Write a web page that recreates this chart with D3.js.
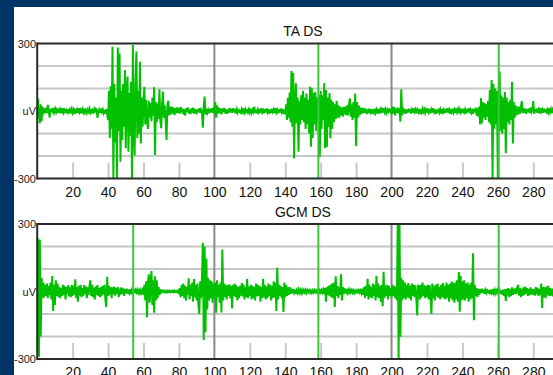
<!DOCTYPE html>
<html>
<head>
<meta charset="utf-8">
<script src="https://cdn.jsdelivr.net/npm/d3@7"></script>
<style>
  html, body { margin: 0; padding: 0; background: #003366; overflow: hidden; }
  svg { display: block; font-family: "Liberation Sans", Arial, sans-serif; }
</style>
</head>
<body>
<svg id="chart" width="553" height="375"></svg>
<script>
// Sampling interval of the traces along the x axis
const sampleStep = 0.5;

// Axis labels
const xTicks = [20, 40, 60, 80, 100, 120, 140, 160, 180, 200, 220, 240, 260, 280];
const yMax = 300;
const yLabels = ["300", "uV", "-300"];

// TA DS trace (uV), one value per half unit
const taValues = [
  10,55,-20,-54,30,-45,20,-15,12,-8,15,-10,27,5,-29,10,-6,12,-5,8,
  -6,9,-4,11,-8,5,-10,7,-3,12,-7,4,-9,10,-5,8,-11,6,-4,9,
  -8,5,-12,10,-3,7,-9,12,-6,4,-10,8,-5,11,-7,3,-9,6,-4,10,
  -6,8,-11,5,-4,9,-7,12,-30,-5,6,-8,10,-4,7,-9,5,-12,8,-15,
  -40,90,-120,110,-80,286,-300,120,-140,60,-300,282,-90,256,-225,90,-130,120,-70,182,
  -166,100,153,-181,80,-110,130,-300,293,-90,-198,140,264,-120,90,-100,219,-144,60,-70,
  40,108,-60,50,-40,-80,45,-30,35,-45,60,-20,106,-196,40,-50,30,-35,96,-40,
  -76,30,86,-30,25,-40,-129,30,45,-20,18,-15,20,-12,15,-18,12,-10,16,-8,
  14,-12,18,-6,10,-15,8,-20,12,-5,16,-10,6,-14,11,-8,15,-12,9,-6,
  -10,8,-6,12,-9,5,-8,-74,20,64,-15,10,-8,5,-10,9,-6,12,-8,6,
  -10,40,-30,25,-12,15,-8,12,-15,10,-6,14,-10,8,-12,6,-9,13,-5,10,
  -8,12,-5,9,-11,7,-6,10,-9,5,-12,8,-4,11,-7,6,-10,9,-5,8,
  -6,10,-8,5,-4,19,-9,7,-11,6,-5,9,-8,12,-6,4,-10,8,-7,11,
  -5,9,-12,6,-8,10,-4,7,-9,12,-6,5,-10,8,-7,11,-5,9,-12,6,
  -15,30,-40,59,-30,82,-50,178,-70,170,-210,40,123,-55,60,-181,43,-60,70,-40,
  90,-50,60,-80,78,-60,50,-100,108,-159,101,-120,80,-60,85,-90,60,-50,70,-203,
  90,-80,70,-40,123,-166,93,-160,60,-70,80,-121,50,-80,40,-50,30,-35,45,-30,
  25,-30,20,-20,15,-25,18,-15,20,-18,25,-20,30,56,-25,30,-40,40,-30,78,
  -155,40,-30,25,-20,15,-12,14,-10,12,-8,10,-14,6,-9,11,-5,8,-12,7,
  -6,10,-8,5,-11,9,-4,7,-10,6,-7,12,-5,8,-9,4,-10,11,-6,8,
  -15,20,-12,18,-20,10,-8,15,-10,12,-47,96,-20,15,-10,8,-12,6,-8,10,
  -6,9,-11,5,-8,12,-4,7,-10,6,-5,9,-12,8,-6,10,-4,7,-9,5,
  -8,11,-5,9,-10,6,-7,12,-4,8,-14,5,-9,10,-6,7,-11,9,-5,6,
  -10,8,-6,12,-8,5,-12,9,-4,10,-7,6,-9,11,-5,8,-10,7,-6,9,
  -8,10,-5,7,-11,9,-6,12,-9,5,-7,10,-12,8,-5,15,-20,12,-25,20,
  -60,58,-55,40,-30,35,-40,30,-25,45,-50,93,-60,138,-300,120,-80,100,-60,90,
  -300,80,175,-90,70,-100,60,-80,84,-188,60,-50,40,-60,50,-40,130,-144,40,-30,
  25,-20,18,-15,20,-12,15,44,-10,12,-8,10,-12,8,-6,11,-9,6,-5,10,
  44,-12,8,-6,11,-9,5,-10,12,-4,7,-8,10,-6,9,-11,5,-7,12,-5,
  8,-9,6,-5,10,-8,7,-6,9,-4,6,-8,10,-5,7,-9,6,-4,8,-6
];

// GCM DS trace (uV), one value per half unit
const gcmValues = [
  0,236,-290,230,-200,60,-30,40,-25,30,-20,35,-30,25,-15,40,-35,69,-87,30,
  -60,50,-20,35,-25,20,-30,15,-20,30,-15,25,-35,20,-10,28,-22,18,-25,30,
  -20,25,-15,54,-30,20,-45,25,-18,30,-25,15,-20,28,-12,22,-30,18,-15,25,
  50,-20,30,-25,18,-35,22,-15,28,-20,15,-25,20,-18,25,-12,30,-40,-69,65,
  -20,25,-15,20,-30,18,-12,22,-18,15,-10,20,-25,12,-15,18,-10,14,-20,12,
  -8,12,-10,8,-6,10,-12,7,-5,9,-8,6,-4,8,-6,5,-8,7,-5,6,
  -15,30,-40,45,-114,40,76,-50,45,91,-60,50,-94,68,-40,50,-30,20,-15,10,
  -3,3,-2,4,-3,2,-4,3,-2,3,-3,2,-2,4,-3,3,-2,2,-4,3,
  -5,15,-25,30,-20,35,-30,25,-40,20,-15,59,-35,30,-20,40,-45,55,-25,30,
  -40,35,-60,-99,45,-30,60,217,-216,200,-180,147,-80,60,-40,50,-30,45,-50,35,
  -30,40,-94,50,-25,30,-50,40,-93,187,-40,35,-25,30,-35,28,-20,32,-30,25,
  -75,30,-20,35,-25,28,-40,20,-30,25,-18,38,-22,30,-35,20,-25,55,-30,22,
  -20,30,-35,25,-28,20,-40,35,-22,30,-18,25,-45,20,-30,56,-25,30,-35,22,
  -28,35,-20,30,-40,25,-30,45,-25,38,-87,106,-35,30,-20,25,-30,20,-91,40,
  -25,30,-20,18,-15,20,-10,12,-8,10,-6,8,-10,5,-7,9,-5,6,-8,7,
  -5,6,-4,7,-6,5,-3,6,-5,4,-6,5,-4,6,-3,5,-5,4,-6,5,
  -4,6,-5,8,-10,15,-45,20,-15,25,-20,30,-25,35,-30,40,-69,68,-20,25,
  -30,20,-15,77,-40,20,-12,15,-8,10,-6,8,-5,7,-4,6,-5,5,-6,4,
  -4,5,-3,6,-5,4,-8,12,-15,20,-30,25,-20,56,-35,30,-25,20,-30,35,
  -20,30,-40,70,-25,35,-30,25,-45,30,-65,88,-30,25,-20,30,-35,25,-20,15,
  -25,30,-20,25,-30,20,-40,300,-300,300,-201,60,-40,50,-30,40,-35,30,-25,38,
  -30,25,-40,35,-20,30,-25,28,-35,-106,30,20,-35,30,-25,40,-20,28,-30,25,
  -25,30,-35,28,-20,-100,35,-30,25,-40,30,-22,35,-28,20,-35,30,-25,38,-30,
  25,-35,40,-28,30,-45,35,-30,45,-40,38,-50,40,-35,50,-45,87,-90,70,-40,
  45,-35,50,-40,35,-30,40,-45,30,-35,40,-30,170,-128,30,-20,15,-25,12,-15,
  10,-8,12,-6,9,-10,7,-5,11,-8,6,-12,8,-5,10,-7,6,-9,5,-6,
  8,-5,6,-10,5,-15,8,-20,10,-42,12,-18,15,-25,10,-20,18,-15,12,-10,
  15,-12,20,30,-18,15,-25,12,-20,18,-15,22,-10,15,-20,12,-15,18,-12,10,
  -15,12,-18,20,-12,15,-20,10,-15,35,-73,20,-25,18,-30,22,-15,25,-20,15,
  -18,12,-22,15,-10,20,-15,12,-8,10,-12,8,-10,12,-8,6,-10,8,-6,5
];

// Event markers (x positions)
const taMarkers = [158.7, 260.5];
const gcmMarkers = [54.2, 158.7, 260.5];

const panels = [
  { title: "TA DS", values: taValues, markers: taMarkers, top: 43.5 },
  { title: "GCM DS", values: gcmValues, markers: gcmMarkers, top: 224 }
];

const plotLeft = 37.2, plotRight = 568.7, plotHeight = 135;
const svg = d3.select("#chart");

// Page background: dark frame with white sheet
svg.append("rect").attr("width", 553).attr("height", 375).attr("fill", "#003366");
svg.append("rect").attr("x", 14).attr("y", 7).attr("width", 553 - 14).attr("height", 375 - 7).attr("fill", "#ffffff");

const x = d3.scaleLinear().domain([0, 300]).range([plotLeft, plotRight]);

panels.forEach((p, k) => {
  const bottom = p.top + plotHeight;
  const y = d3.scaleLinear().domain([-yMax, yMax]).range([bottom, p.top]);
  const g = svg.append("g");

  const clipId = "clip" + k;
  svg.append("clipPath").attr("id", clipId)
    .append("rect").attr("x", plotLeft).attr("y", p.top)
    .attr("width", plotRight - plotLeft).attr("height", plotHeight);

  // Horizontal grid
  g.selectAll(".hgrid").data(d3.range(-200, 201, 100)).join("line")
    .attr("x1", plotLeft).attr("x2", plotRight)
    .attr("y1", d => y(d)).attr("y2", d => y(d))
    .attr("stroke", "#c6c6c6").attr("stroke-width", 2);

  // Short inner tick marks along the bottom edge
  const minor = xTicks.filter(v => v % 100 !== 0);
  const tickAxis = g.append("g").attr("transform", `translate(0,${bottom})`)
    .call(d3.axisTop(x).tickValues(minor).tickSize(16).tickFormat(""));
  tickAxis.select(".domain").remove();
  tickAxis.selectAll("line").attr("stroke", "#c8c8c8").attr("stroke-width", 2);

  // Major vertical grid lines
  g.selectAll(".vgrid").data([100, 200]).join("line")
    .attr("x1", d => x(d)).attr("x2", d => x(d))
    .attr("y1", p.top).attr("y2", bottom)
    .attr("stroke", "#8a8a8a").attr("stroke-width", 2);

  // Signal trace
  const line = d3.line()
    .x((d, i) => x(i * sampleStep))
    .y(d => y(d));
  g.append("path").datum(p.values)
    .attr("clip-path", `url(#${clipId})`)
    .attr("d", line)
    .attr("fill", "none")
    .attr("stroke", "#00c000")
    .attr("stroke-width", 2)
    .attr("stroke-linejoin", "miter");

  // Event markers
  g.selectAll(".marker").data(p.markers).join("line")
    .attr("x1", d => x(d)).attr("x2", d => x(d))
    .attr("y1", p.top).attr("y2", bottom)
    .attr("stroke", "#38c838").attr("stroke-width", 2);

  // Frame
  g.append("line").attr("x1", plotLeft).attr("x2", 553).attr("y1", p.top).attr("y2", p.top)
    .attr("stroke", "#2a2a2a").attr("stroke-width", 2);
  g.append("line").attr("x1", plotLeft).attr("x2", 553).attr("y1", bottom).attr("y2", bottom)
    .attr("stroke", "#2a2a2a").attr("stroke-width", 2);
  g.append("line").attr("x1", plotLeft).attr("x2", plotLeft).attr("y1", p.top - 1).attr("y2", bottom + 1)
    .attr("stroke", "#2a2a2a").attr("stroke-width", 2);

  // X tick labels
  const xAxis = g.append("g").attr("transform", `translate(0,${bottom})`)
    .call(d3.axisBottom(x).tickValues(xTicks).tickSize(0).tickPadding(8.5));
  xAxis.select(".domain").remove();
  xAxis.selectAll("text")
    .attr("font-size", 14)
    .attr("font-family", "'Liberation Sans', Arial, sans-serif")
    .attr("fill", "#111");

  // Y labels
  const yPos = [yMax, 0, -yMax];
  g.selectAll(".ylab").data(yLabels).join("text")
    .attr("x", 36).attr("y", (d, i) => y(yPos[i]) + 4)
    .attr("text-anchor", "end")
    .attr("font-size", 11)
    .attr("fill", "#222")
    .text(d => d);

  // Title
  g.append("text")
    .attr("x", (plotLeft + plotRight) / 2).attr("y", p.top - 7.5)
    .attr("text-anchor", "middle")
    .attr("font-size", 14)
    .attr("fill", "#111")
    .text(p.title);
});
</script>
</body>
</html>
